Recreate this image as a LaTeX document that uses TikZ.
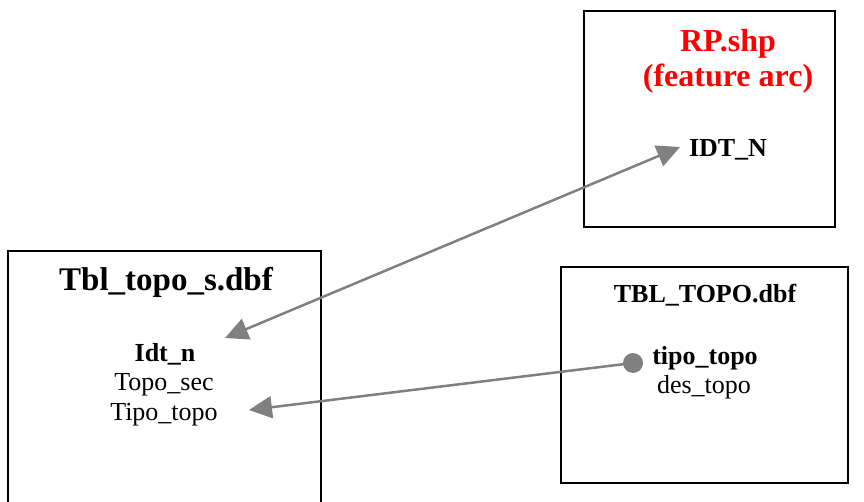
\documentclass[tikz,border=0pt]{standalone}
\usepackage{fontspec}
\setmainfont{Liberation Serif}
\usetikzlibrary{arrows.meta}

\tikzset{
  fld/.style={anchor=base, inner sep=0pt, font=\fontsize{26}{30}\selectfont},
  keyfld/.style={fld, font=\bfseries\fontsize{26}{30}\selectfont},
  ttl/.style={anchor=base, inner sep=0pt, font=\bfseries\fontsize{32}{36}\selectfont},
  box/.style={draw=black, line width=2pt},
  link/.style={draw=gray, line width=2.5pt, -{Triangle[length=23pt,width=22pt]}},
}

\begin{document}
\begin{tikzpicture}[x=1pt,y=-1pt]
  \useasboundingbox (0,0) rectangle (864,502);

  % --- RP.shp (manual box) ---
  \draw[box] (584,11) rectangle (835,227);
  \node[ttl, text=red] (rp) at (728,52) {RP.shp};
  \node[ttl, text=red] (rparc) at (728,87) {(feature arc)};
  \node[keyfld] (idtN) at (728,157) {IDT\_N};

  % --- Tbl_topo_s.dbf (bottom cut off) ---
  \draw[box] (8,503) -- (8,251) -- (321,251) -- (321,503);
  \node[ttl, font=\bfseries\fontsize{33}{37}\selectfont] (tbls) at (166,291) {Tbl\_topo\_s.dbf};
  \node[keyfld] (idtn) at (165,361) {Idt\_n};
  \node[fld] (toposec) at (164,390) {Topo\_sec};
  \node[fld] (tipotopo) at (164,420) {Tipo\_topo};

  % --- TBL_TOPO.dbf (manual box) ---
  \draw[box] (561,267) rectangle (848,483);
  \node[keyfld] (tbltopo) at (705,302) {TBL\_TOPO.dbf};
  \node[keyfld] (tipo) at (705,364) {tipo\_topo};
  \node[fld] (destopo) at (704,393) {des\_topo};

  % --- links ---
  \coordinate (idtnEnd) at (225,338);
  \coordinate (idtNEnd) at (680,147);
  \coordinate (tipoEnd) at (249,410);
  \node[circle, fill=gray, inner sep=0pt, minimum size=20pt] (dot) at (633,363) {};

  \draw[link, {Triangle[length=23pt,width=22pt]}-{Triangle[length=23pt,width=22pt]}] (idtnEnd) -- (idtNEnd);
  \draw[link] (dot.center) -- (tipoEnd);

\end{tikzpicture}
\end{document}
